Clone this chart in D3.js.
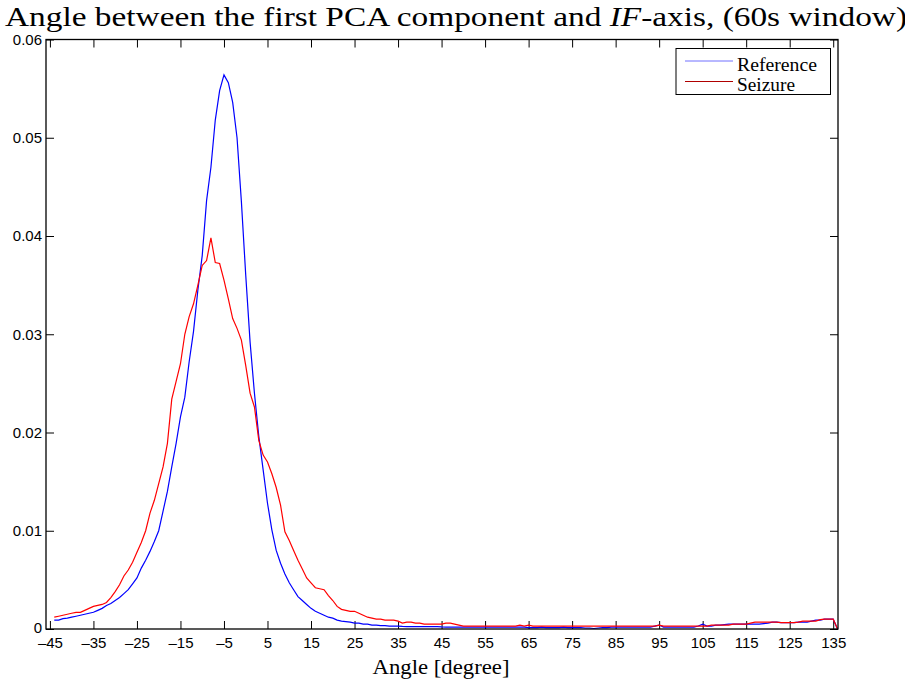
<!DOCTYPE html>
<html>
<head>
<meta charset="utf-8">
<script src="https://cdn.jsdelivr.net/npm/d3@7"></script>
<style>
  body { margin: 0; background: #fff; }
  svg { display: block; }
  .tick text { font-family: "Liberation Sans", Arial, Helvetica, sans-serif; font-size: 15px; fill: #000; }
  .tick line { stroke: #000; }
  .serif { font-family: "Liberation Serif", "Times New Roman", serif; fill: #000; }
</style>
</head>
<body>
<svg id="chart" width="905" height="684"></svg>
<script>
// 1-degree histogram bins, -44 .. 136
const angles = d3.range(-44, 137);

// Reference (blue)
const reference = [
  0.0009, 0.0009, 0.00105, 0.0011, 0.0012, 0.0013, 0.0014, 0.0015, 0.0016, 0.0017,
  0.0019, 0.0021, 0.0024, 0.0026, 0.0029, 0.0032, 0.0036, 0.0040, 0.0046, 0.0052,
  0.0062, 0.0070, 0.0079, 0.0089, 0.0100, 0.0120, 0.0140, 0.0165, 0.0189, 0.0216,
  0.0236, 0.0272, 0.0303, 0.0345, 0.0380, 0.0436, 0.0470, 0.0518, 0.0548, 0.0564,
  0.0556, 0.0536, 0.0500, 0.0435, 0.0360, 0.0292, 0.0240, 0.0196, 0.0162, 0.0128,
  0.0101, 0.0080, 0.0067, 0.0056, 0.0047, 0.0040, 0.0033, 0.0029, 0.0025, 0.0021,
  0.0018, 0.0016, 0.0014, 0.0012, 0.0011, 0.0009, 0.0008, 0.00075, 0.0007, 0.0006,
  0.0006, 0.0005, 0.0005, 0.0004, 0.0004, 0.00035, 0.00035, 0.0003, 0.0003, 0.0003,
  0.00027, 0.00025, 0.00025, 0.00025, 0.00025, 0.00025, 0.00025, 0.00025, 0.00025, 0.00022,
  0.0002, 0.0002, 0.0002, 0.0002, 0.0002, 0.0002, 0.0002, 0.0002, 0.0002, 0.0002,
  0.0002, 0.0002, 0.0002, 0.0002, 0.0002, 0.0002, 0.0002, 0.0002, 0.0002, 0.00015,
  0.00015, 0.00015, 0.0002, 0.00015, 0.00015, 0.00015, 0.00015, 0.0002, 0.00015, 0.00015,
  0.00015, 0.00015, 0.0001, 0.0001, 0.00005, 0.0001, 0.00015, 0.00015, 0.0002, 0.0002,
  0.0002, 0.0002, 0.0002, 0.0002, 0.0002, 0.0002, 0.0002, 0.0002, 0.0003, 0.0004,
  0.0002, 0.0002, 0.0002, 0.0002, 0.0002, 0.0002, 0.0002, 0.0002, 0.0003, 0.0005,
  0.0003, 0.0003, 0.0004, 0.0004, 0.00045, 0.0005, 0.0005, 0.0005, 0.0005, 0.0005,
  0.0005, 0.0005, 0.0005, 0.00055, 0.0006, 0.0007, 0.0007, 0.00065, 0.00065, 0.00065,
  0.00065, 0.0007, 0.0007, 0.0007, 0.0008, 0.0009, 0.0009, 0.001, 0.001, 0.001,
  0
];

// Seizure (red)
const seizure = [
  0.0012, 0.0013, 0.0014, 0.0015, 0.0016, 0.0017, 0.0017, 0.0019, 0.0021, 0.0023,
  0.0024, 0.0025, 0.0027, 0.0032, 0.0038, 0.0045, 0.0054, 0.0060, 0.0068, 0.0078,
  0.0088, 0.0100, 0.0118, 0.0131, 0.0148, 0.0165, 0.0189, 0.0234, 0.0252, 0.0270,
  0.0300, 0.0318, 0.0331, 0.0350, 0.0370, 0.0375, 0.0398, 0.0373, 0.0372, 0.0355,
  0.0336, 0.0316, 0.0306, 0.0294, 0.0268, 0.0240, 0.0226, 0.0192, 0.0177, 0.0170,
  0.0158, 0.0144, 0.0126, 0.0099, 0.0090, 0.0080, 0.0070, 0.0061, 0.0052, 0.0047,
  0.0042, 0.0041, 0.0040, 0.0034, 0.0029, 0.0023, 0.0020, 0.0019, 0.0018, 0.0018,
  0.0016, 0.0014, 0.0012, 0.0011, 0.0010, 0.0010, 0.0009, 0.0009, 0.0009, 0.0008,
  0.0006, 0.0007, 0.0007, 0.0006, 0.0006, 0.0005, 0.0005, 0.0005, 0.0005, 0.0005,
  0.0006, 0.0006, 0.0005, 0.0004, 0.0003, 0.0003, 0.0003, 0.0003, 0.0003, 0.0003,
  0.0003, 0.0003, 0.0003, 0.0003, 0.0003, 0.0003, 0.0003, 0.0004, 0.0003, 0.0004,
  0.0003, 0.0003, 0.0003, 0.0003, 0.0003, 0.0003, 0.0003, 0.0003, 0.0003, 0.0003,
  0.0003, 0.0003, 0.0003, 0.0003, 0.0003, 0.0003, 0.0003, 0.0003, 0.0003, 0.0003,
  0.0003, 0.0003, 0.0003, 0.0003, 0.0003, 0.0003, 0.0003, 0.0003, 0.0003, 0.0004,
  0.0003, 0.0003, 0.0003, 0.0003, 0.0003, 0.0003, 0.0003, 0.0003, 0.0003, 0.0003,
  0.0003, 0.0004, 0.0004, 0.0004, 0.0004, 0.0004, 0.0005, 0.0005, 0.0005, 0.0005,
  0.0006, 0.0007, 0.0007, 0.0007, 0.0007, 0.0007, 0.0007, 0.00065, 0.00065, 0.00065,
  0.00065, 0.0007, 0.0008, 0.0008, 0.0008, 0.0008, 0.00095, 0.001, 0.001, 0.001,
  0
];

const xTicks = [-45, -35, -25, -15, -5, 5, 15, 25, 35, 45, 55, 65, 75, 85, 95, 105, 115, 125, 135];
const yTicks = [0, 0.01, 0.02, 0.03, 0.04, 0.05, 0.06];

const series = [
  { name: "Reference", values: reference, color: "#0000ff", legendColor: "#7070ff", textWidth: 80 },
  { name: "Seizure", values: seizure, color: "#ff0000", legendColor: "#b00000", textWidth: 58 }
];

const svg = d3.select("#chart");
const plot = { left: 46, right: 838, top: 39.5, bottom: 629 };

const x = d3.scaleLinear().domain([-45.9, 136.1]).range([plot.left, plot.right]);
const y = d3.scaleLinear().domain([0, 0.06]).range([plot.bottom, plot.top]);

// title
const title = svg.append("text")
  .attr("class", "serif")
  .attr("x", 5).attr("y", 26)
  .attr("font-size", 27)
  .attr("textLength", 902)
  .attr("lengthAdjust", "spacingAndGlyphs");
title.append("tspan").text("Angle between the first PCA component and ");
title.append("tspan").attr("font-style", "italic").text("IF");
title.append("tspan").text("-axis, (60s window)");

// axes (ticks inside on all four sides)
const fmtX = d => d < 0 ? "\u2013" + Math.abs(d) : "" + d;
const fmtY = d => d === 0 ? "0" : d.toFixed(2);

svg.append("g").attr("transform", `translate(0,${plot.bottom})`)
  .call(d3.axisBottom(x).tickValues(xTicks).tickFormat(fmtX).tickSize(-8).tickPadding(8))
  .call(g => g.select(".domain").remove());
svg.append("g").attr("transform", `translate(0,${plot.top})`)
  .call(d3.axisTop(x).tickValues(xTicks).tickFormat("").tickSize(-8))
  .call(g => g.select(".domain").remove());
svg.append("g").attr("transform", `translate(${plot.left},0)`)
  .call(d3.axisLeft(y).tickValues(yTicks).tickFormat(fmtY).tickSize(-8).tickPadding(4))
  .call(g => g.select(".domain").remove())
  .call(g => g.selectAll(".tick text").filter(d => d === 0).attr("dy", "0.2em"));
svg.append("g").attr("transform", `translate(${plot.right},0)`)
  .call(d3.axisRight(y).tickValues(yTicks).tickFormat("").tickSize(-8))
  .call(g => g.select(".domain").remove());

// curves
const line = d3.line()
  .x((d, i) => x(angles[i]))
  .y(d => y(d));

svg.append("g").selectAll("path")
  .data(series)
  .enter()
  .append("path")
    .attr("d", d => line(d.values))
    .attr("fill", "none")
    .attr("stroke", d => d.color)
    .attr("stroke-width", 1.2);

// frame
svg.append("rect")
  .attr("x", plot.left).attr("y", plot.top)
  .attr("width", plot.right - plot.left).attr("height", plot.bottom - plot.top)
  .attr("fill", "none")
  .attr("stroke", "#000")
  .attr("stroke-width", 1.3);

// x label
svg.append("text")
  .attr("class", "serif")
  .attr("x", 441).attr("y", 674)
  .attr("text-anchor", "middle")
  .attr("font-size", 21)
  .attr("textLength", 137)
  .attr("lengthAdjust", "spacingAndGlyphs")
  .text("Angle [degree]");

// legend
const legend = svg.append("g");
legend.append("rect")
  .attr("x", 676).attr("y", 48.5)
  .attr("width", 154.5).attr("height", 46)
  .attr("fill", "#fff")
  .attr("stroke", "#000")
  .attr("stroke-width", 1);

series.forEach((s, i) => {
  const ly = 61 + i * 20.5;
  legend.append("line")
    .attr("x1", 685).attr("x2", 733)
    .attr("y1", ly).attr("y2", ly)
    .attr("stroke", s.legendColor)
    .attr("stroke-width", 1);
  legend.append("text")
    .attr("class", "serif")
    .attr("x", 737).attr("y", ly + 9.5)
    .attr("font-size", 18)
    .attr("textLength", s.textWidth)
    .attr("lengthAdjust", "spacingAndGlyphs")
    .text(s.name);
});
</script>
</body>
</html>
